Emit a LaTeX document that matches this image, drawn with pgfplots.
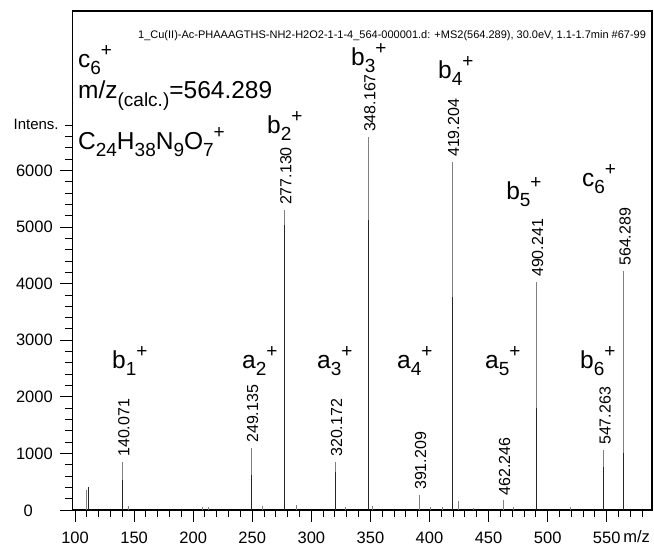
\documentclass[border=0pt]{standalone}
\usepackage{fontspec}
\setmainfont{Liberation Sans}
\usepackage{pgfplots}
\pgfplotsset{compat=1.18}
\newcommand{\fs}[1]{\fontsize{#1}{#1}\selectfont}
\newcommand{\sbb}[1]{\raisebox{-7pt}{\fs{19}#1}}
\newcommand{\spp}[1]{\raisebox{10.5pt}{\fs{19}#1}}
\newcommand{\ion}[2]{#1\sbb{#2}\spp{+}}
\begin{document}
\begin{tikzpicture}
\begin{axis}[
  scale only axis, width=579.7pt, height=499pt,
  xmin=97.7, xmax=588.3, ymin=0, ymax=8820,
  clip=false,
  axis line style={line width=1.2pt, black},
  xtick={100,150,...,550}, minor xtick={110,120,...,580},
  ytick={0,1000,...,6000}, minor ytick={200,400,...,6800},
  yticklabels={{},1000,2000,3000,4000,5000,6000},
  xtick pos=bottom, ytick pos=left,
  tick align=outside,
  major tick length=12pt, minor tick length=7pt,
  tick style={black, line width=1pt},
  minor tick style={black, line width=1pt},
  /pgf/number format/assume math mode=true,
  /pgf/number format/set thousands separator={},
  xticklabel style={font=\fs{16.5}, inner sep=0pt, yshift=-10pt},
  yticklabel style={font=\fs{16.5}, xshift=-4pt},
]
\coordinate (SW) at (rel axis cs:0,0);
\coordinate (NE) at (rel axis cs:1,1);
% light full-height sticks
\addplot[ycomb, black!50, line width=1pt, mark=none] coordinates {
(110.07,360) (111.5,410) (140.071,850) (145.1,70) (207.5,60) (212.6,50)
(249.135,1097) (258.5,70) (277.130,5300) (287.6,90) (320.172,850) (328.5,50)
(348.167,6590) (352.0,70) (391.209,265) (400.5,50) (411.0,50) (419.204,6150)
(424.4,160) (437.0,40) (462.246,170) (471.0,50) (490.241,4030) (519.0,50)
(547.263,1060) (564.289,4225)
};
% darker lower parts
\addplot[ycomb, black!85, line width=1pt, mark=none] coordinates {
(111.5,400) (140.071,530) (249.135,620) (277.130,5040) (320.172,670)
(348.167,5130) (419.204,3760) (490.241,1800) (547.263,760) (564.289,1000)
};
% peak labels
\foreach \px/\py/\lab in {140.071/850/140.071, 249.135/1097/249.135, 277.130/5300/277.130,
  320.172/850/320.172, 348.167/6590/348.167, 391.209/265/391.209, 419.204/6150/419.204,
  462.246/170/462.246, 490.241/4030/490.241, 547.263/1060/547.263, 564.289/4225/564.289}{
  \edef\temp{\noexpand\node[rotate=90, anchor=west, inner sep=0pt, font=\noexpand\fs{16}] at ([yshift=5pt, xshift=1.5pt]axis cs:\px,\py) {\lab};}
  \temp
}
% ion labels
\node[anchor=base west, inner sep=0pt, font=\fs{24.5}] at (axis cs:131.3,2509) {\ion{b}{1}};
\node[anchor=base west, inner sep=0pt, font=\fs{24.5}] at (axis cs:241.3,2509) {\ion{a}{2}};
\node[anchor=base west, inner sep=0pt, font=\fs{24.5}] at (axis cs:304.8,2509) {\ion{a}{3}};
\node[anchor=base west, inner sep=0pt, font=\fs{24.5}] at (axis cs:372.5,2509) {\ion{a}{4}};
\node[anchor=base west, inner sep=0pt, font=\fs{24.5}] at (axis cs:447.0,2509) {\ion{a}{5}};
\node[anchor=base west, inner sep=0pt, font=\fs{24.5}] at (axis cs:527.4,2509) {\ion{b}{6}};
\node[anchor=base west, inner sep=0pt, font=\fs{24.5}] at (axis cs:262.5,6661) {\ion{b}{2}};
\node[anchor=base west, inner sep=0pt, font=\fs{24.5}] at (axis cs:333.6,7862) {\ion{b}{3}};
\node[anchor=base west, inner sep=0pt, font=\fs{24.5}] at (axis cs:407.2,7633) {\ion{b}{4}};
\node[anchor=base west, inner sep=0pt, font=\fs{24.5}] at (axis cs:464.8,5496) {\ion{b}{5}};
\node[anchor=base west, inner sep=0pt, font=\fs{24.5}] at (axis cs:529.0,5724) {\ion{c}{6}};
% info block
\node[anchor=base west, inner sep=0pt, font=\fs{24.5}] at (axis cs:102.5,7827) {\ion{c}{6}};
\node[anchor=base west, inner sep=0pt, font=\fs{24.5}] at (axis cs:102.5,7279) {m/z\raisebox{-8pt}{\fs{19}(calc.)}=564.289};
\node[anchor=base west, inner sep=0pt, font=\fs{24.5}] at (axis cs:102.5,6378) {C\sbb{24}H\sbb{38}N\sbb{9}O\sbb{7}\spp{+}};
% title
\node[anchor=base west, inner sep=0pt, font=\fs{11}] at (axis cs:153.3,8339) {1\_Cu(II)-Ac-PHAAAGTHS-NH2-H2O2-1-1-4\_564-000001.d: +MS2(564.289), 30.0eV, 1.1-1.7min \#67-99};
% axis captions
\node[anchor=base east, inner sep=0pt, font=\fs{15}] at (axis cs:86.3,6731) {Intens.};
\node[anchor=base east, inner sep=0pt, font=\fs{16.5}] at (axis cs:64.5,-106) {0};
\node[anchor=base west, inner sep=0pt, font=\fs{16.5}] at ([yshift=-32pt]axis cs:563.8,0) {m/z};
\end{axis}
\pgfresetboundingbox
\path[use as bounding box] ([shift={(-72.3pt,-36pt)}]SW) rectangle ([shift={(2pt,11pt)}]NE);
\end{tikzpicture}
\end{document}
